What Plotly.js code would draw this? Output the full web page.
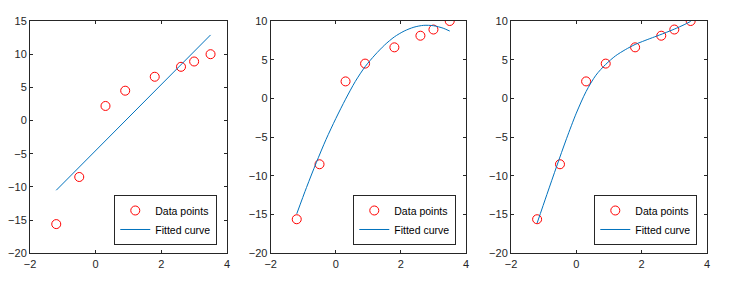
<!DOCTYPE html>
<html>
<head>
<meta charset="utf-8">
<script src="https://cdn.plot.ly/plotly-3.0.1.min.js"></script>
<style>html,body{margin:0;padding:0;background:#fff;}#chart{width:735px;height:285px;}</style>
</head>
<body>
<div id="chart"></div>
<script>
// Data points (same in all three panels)
const dataX = [-1.2, -0.5, 0.3, 0.9, 1.8, 2.6, 3.0, 3.5];
const dataY = [-15.6, -8.5, 2.2, 4.5, 6.6, 8.1, 8.9, 10.0];

// Panel 1: fitted straight line (read endpoints)
const fit1X = [-1.2, 3.5];
const fit1Y = [-10.5, 12.9];

// Panel 2: fitted curve (read points)
const fit2X = [-1.2, -0.9, -0.6, -0.3, 0.0, 0.3, 0.6, 0.9, 1.2, 1.5, 1.8, 2.1, 2.4, 2.7, 3.0, 3.3, 3.5];
const fit2Y = [-14.9, -11.5, -8.3, -5.3, -2.6, -0.1, 2.2, 4.1, 5.6, 6.9, 7.95, 8.7, 9.2, 9.44, 9.39, 9.07, 8.7];

// Panel 3: fitted curve (read points)
const fit3X = [-1.2, -0.9, -0.6, -0.3, 0.0, 0.3, 0.6, 0.9, 1.2, 1.5, 1.8, 2.1, 2.4, 2.7, 3.0, 3.3, 3.5];
const fit3Y = [-16.1, -12.4, -8.75, -5.2, -1.9, 0.9, 3.0, 4.4, 5.5, 6.3, 6.97, 7.48, 7.96, 8.44, 8.95, 9.52, 9.95];

const xTicks = [-2, 0, 2, 4];
const yTicks1 = [-20, -15, -10, -5, 0, 5, 10, 15];
const yTicks23 = [-20, -15, -10, -5, 0, 5, 10];

const red = '#ff0000';
const blue = '#0072BD';
const ink = '#262626';

const fits = [[fit1X, fit1Y], [fit2X, fit2Y], [fit3X, fit3Y]];
const traces = [];
fits.forEach((f, i) => {
  const n = i === 0 ? '' : String(i + 1);
  const lg = i === 0 ? 'legend' : 'legend' + (i + 1);
  traces.push({
    x: dataX, y: dataY, xaxis: 'x' + n, yaxis: 'y' + n, type: 'scatter', mode: 'markers',
    name: 'Data points', legend: lg,
    marker: {symbol: 'circle-open', size: 9, color: red, line: {color: red, width: 1}}
  });
  traces.push({
    x: f[0], y: f[1], xaxis: 'x' + n, yaxis: 'y' + n, type: 'scatter', mode: 'lines',
    name: 'Fitted curve', legend: lg,
    line: {color: blue, width: 1, shape: i === 0 ? 'linear' : 'spline', smoothing: 0.8}
  });
});

const font = {family: 'Liberation Sans, Arial, sans-serif', size: 11, color: ink};
function xax(dom, anchor) {
  return {domain: dom, anchor: anchor, range: [-2, 4], tickvals: xTicks, ticks: 'inside', ticklen: 3,
    tickcolor: ink, showline: true, linecolor: ink, linewidth: 1, mirror: 'ticks', showgrid: false,
    zeroline: false, tickfont: font, fixedrange: true};
}
function yax(range, ticks, anchor) {
  return {domain: [0.1112, 0.9263], anchor: anchor, range: range, tickvals: ticks, ticks: 'inside', ticklen: 3,
    tickcolor: ink, showline: true, linecolor: ink, linewidth: 1, mirror: 'ticks', showgrid: false,
    zeroline: false, tickfont: font, fixedrange: true};
}
const xd = [[0.0408, 0.3088], [0.3683, 0.634], [0.6952, 0.9619]];
function leg(i) {
  return {x: xd[i][1] - 0.0132, y: 0.1404, xanchor: 'right', yanchor: 'bottom', xref: 'paper', yref: 'paper',
    bgcolor: '#ffffff', bordercolor: ink, borderwidth: 1, font: {family: font.family, size: 10.5, color: '#000'},
    tracegroupgap: 0, itemwidth: 30};
}
const layout = {
  width: 735, height: 285, margin: {l: 0, r: 0, t: 0, b: 0},
  paper_bgcolor: '#ffffff', plot_bgcolor: '#ffffff', showlegend: true,
  xaxis: xax(xd[0], 'y'), yaxis: yax([-20, 15], yTicks1, 'x'),
  xaxis2: xax(xd[1], 'y2'), yaxis2: yax([-20, 10], yTicks23, 'x2'),
  xaxis3: xax(xd[2], 'y3'), yaxis3: yax([-20, 10], yTicks23, 'x3'),
  legend: leg(0), legend2: leg(1), legend3: leg(2)
};
Plotly.newPlot('chart', traces, layout, {staticPlot: true, displayModeBar: false});
</script>
</body>
</html>
